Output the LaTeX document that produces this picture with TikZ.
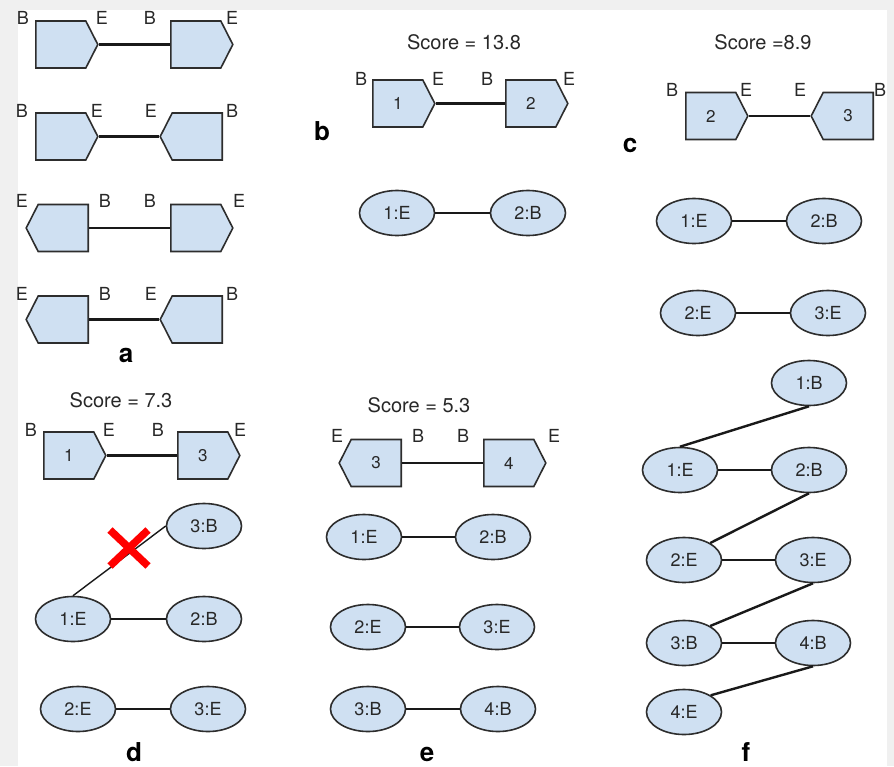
\documentclass[tikz,border=0pt]{standalone}
\usepackage{fontspec}
\setmainfont{TeX Gyre Heros}
\usetikzlibrary{shapes.symbols,shapes.geometric}
\definecolor{fillblue}{RGB}{207,224,242}
\definecolor{edgegray}{RGB}{45,45,45}
\definecolor{txt}{RGB}{40,40,40}
\definecolor{bggray}{RGB}{240,240,240}
\begin{document}
\begin{tikzpicture}[x=1pt,y=-1pt,
 pent/.style={signal, draw=edgegray, fill=fillblue, line width=1.6pt, minimum width=62pt, minimum height=47pt, inner sep=0pt, signal pointer angle=126, font=\fontsize{17}{19}\selectfont, text=txt},
 pr/.style={pent, signal to=east},
 pl/.style={pent, signal to=west},
 ell/.style={ellipse, draw=edgegray, fill=fillblue, line width=1.6pt, minimum width=75pt, minimum height=45pt, inner sep=0pt, font=\fontsize{18}{20}\selectfont, text=txt},
 lab/.style={font=\fontsize{18}{20}\selectfont, text=txt, inner sep=0pt},
 score/.style={font=\fontsize{20}{22}\selectfont, text=txt, inner sep=0pt},
 panel/.style={font=\fontsize{26}{28}\selectfont\bfseries, inner sep=0pt, anchor=base},
 link/.style={line width=2.4pt, draw=black!90},
 thinlink/.style={line width=1.4pt, draw=black!90},
 cross/.style={line width=7.5pt, draw=red},
]
\fill[bggray] (0,0) rectangle (894,766);
\fill[white] (18,10) rectangle (887,766);
\useasboundingbox (0,0) rectangle (894,766);

% ---------- panel a ----------
\node[pr, anchor=west] (a1l) at (35,44.5) {};
\node[pr, anchor=west] (a1r) at (170,44.5) {};
\draw[link] (a1l.east) -- (a1r.west);
\node[lab] (a1t1) at (23,18) {B};
\node[lab] (a1t2) at (102,18) {E};
\node[lab] (a1t3) at (150,18) {B};
\node[lab] (a1t4) at (232,18) {E};

\node[pr, anchor=west] (a2l) at (35,136.5) {};
\node[pl, anchor=east] (a2r) at (223,136.5) {};
\draw[link] (a2l.east) -- (a2r.west);
\node[lab] (a2t1) at (22,111) {B};
\node[lab] (a2t2) at (97,111) {E};
\node[lab] (a2t3) at (151,111) {E};
\node[lab] (a2t4) at (232,111) {B};

\node[pl, anchor=east] (a3l) at (89,228) {};
\node[pr, anchor=west] (a3r) at (170,228) {};
\draw[link] (a3l.east) -- (a3r.west);
\node[lab] (a3t1) at (22,201) {E};
\node[lab] (a3t2) at (105,201) {B};
\node[lab] (a3t3) at (150,201) {B};
\node[lab] (a3t4) at (239,201) {E};

\node[pl, anchor=east] (a4l) at (89,319.5) {};
\node[pl, anchor=east] (a4r) at (223,319.5) {};
\draw[link] (a4l.east) -- (a4r.west);
\node[lab] (a4t1) at (22,294) {E};
\node[lab] (a4t2) at (105,294) {B};
\node[lab] (a4t3) at (151,294) {E};
\node[lab] (a4t4) at (232,294) {B};

\node[panel] (pa) at (126,362) {a};

% ---------- panel b ----------
\node[score] (sb) at (464,42) {Score = 13.8};
\node[pr, anchor=west] (b1) at (372,103.5) {1};
\node[pr, anchor=west] (b2) at (505,103.5) {2};
\draw[link] (b1.east) -- (b2.west);
\node[lab] (bt1) at (361,79) {B};
\node[lab] (bt2) at (438,79) {E};
\node[lab] (bt3) at (487,79) {B};
\node[lab] (bt4) at (569,79) {E};
\node[panel] (pb) at (322,140) {b};
\node[ell] (b1E) at (397,213) {1:E};
\node[ell] (b2B) at (528,213) {2:B};
\draw[link] (b1E.east) -- (b2B.west);

% ---------- panel c ----------
\node[score] (sc) at (763,42) {Score =8.9};
\node[pr, anchor=west] (c2) at (685,116) {2};
\node[pl, anchor=east] (c3) at (874,116) {3};
\draw[link] (c2.east) -- (c3.west);
\node[lab] (ct1) at (672,90) {B};
\node[lab] (ct2) at (746,90) {E};
\node[lab] (ct3) at (800,90) {E};
\node[lab] (ct4) at (880,90) {B};
\node[panel] (pc) at (630,152) {c};
\node[ell] (c1E) at (694,221) {1:E};
\node[ell] (c2B) at (824,221) {2:B};
\draw[link] (c1E.east) -- (c2B.west);
\node[ell] (c2E) at (698,313) {2:E};
\node[ell] (c3E) at (828,313) {3:E};
\draw[link] (c2E.east) -- (c3E.west);

% ---------- panel d ----------
\node[score] (sd) at (121,400) {Score = 7.3};
\node[pr, anchor=west] (d1) at (43,455.5) {1};
\node[pr, anchor=west] (d3) at (177,455.5) {3};
\draw[link] (d1.east) -- (d3.west);
\node[lab] (dt1) at (31,430) {B};
\node[lab] (dt2) at (109,430) {E};
\node[lab] (dt3) at (158,430) {B};
\node[lab] (dt4) at (240,430) {E};
\node[ell] (d3B) at (204,526) {3:B};
\node[ell] (d1E) at (73,619) {1:E};
\node[ell] (d2B) at (204,619) {2:B};
\node[ell] (d2E) at (78,709) {2:E};
\node[ell] (d3E) at (208,709) {3:E};
\draw[thinlink] (d1E.north) -- (d3B.west);
\draw[link] (d1E.east) -- (d2B.west);
\draw[link] (d2E.east) -- (d3E.west);
\coordinate (dx) at (129,548);
\draw[cross] (dx) +(-19,-18) -- +(19,18);
\draw[cross] (dx) +(-19,18) -- +(19,-18);
\node[panel] (pd) at (134,761) {d};

% ---------- panel e ----------
\node[score] (se) at (419,405) {Score = 5.3};
\node[pl, anchor=east] (e3) at (402,463) {3};
\node[pr, anchor=west] (e4) at (483,463) {4};
\draw[link] (e3.east) -- (e4.west);
\node[lab] (et1) at (337,436) {E};
\node[lab] (et2) at (418,436) {B};
\node[lab] (et3) at (463,436) {B};
\node[lab] (et4) at (554,436) {E};
\node[ell] (e1E) at (364,537) {1:E};
\node[ell] (e2B) at (493,537) {2:B};
\draw[link] (e1E.east) -- (e2B.west);
\node[ell] (e2E) at (368,627) {2:E};
\node[ell] (e3E) at (497,627) {3:E};
\draw[link] (e2E.east) -- (e3E.west);
\node[ell] (e3B) at (368,709) {3:B};
\node[ell] (e4B) at (498,709) {4:B};
\draw[link] (e3B.east) -- (e4B.west);
\node[panel] (pe) at (427,761) {e};

% ---------- panel f ----------
\node[ell] (f1B) at (809,383) {1:B};
\node[ell] (f1E) at (680,470) {1:E};
\node[ell] (f2B) at (809,470) {2:B};
\node[ell] (f2E) at (684,560) {2:E};
\node[ell] (f3E) at (813,560) {3:E};
\node[ell] (f3B) at (684,643) {3:B};
\node[ell] (f4B) at (813,643) {4:B};
\node[ell] (f4E) at (684,712) {4:E};
\draw[link] (f1B.south) -- (f1E.north);
\draw[link] (f1E.east) -- (f2B.west);
\draw[link] (f2B.south) -- (f2E.33);
\draw[link] (f2E.east) -- (f3E.west);
\draw[link] (f3E.south) -- (f3B.33);
\draw[link] (f3B.east) -- (f4B.west);
\draw[link] (f4B.south) -- (f4E.32);
\node[panel] (pf) at (746,761) {f};
\end{tikzpicture}
\end{document}
